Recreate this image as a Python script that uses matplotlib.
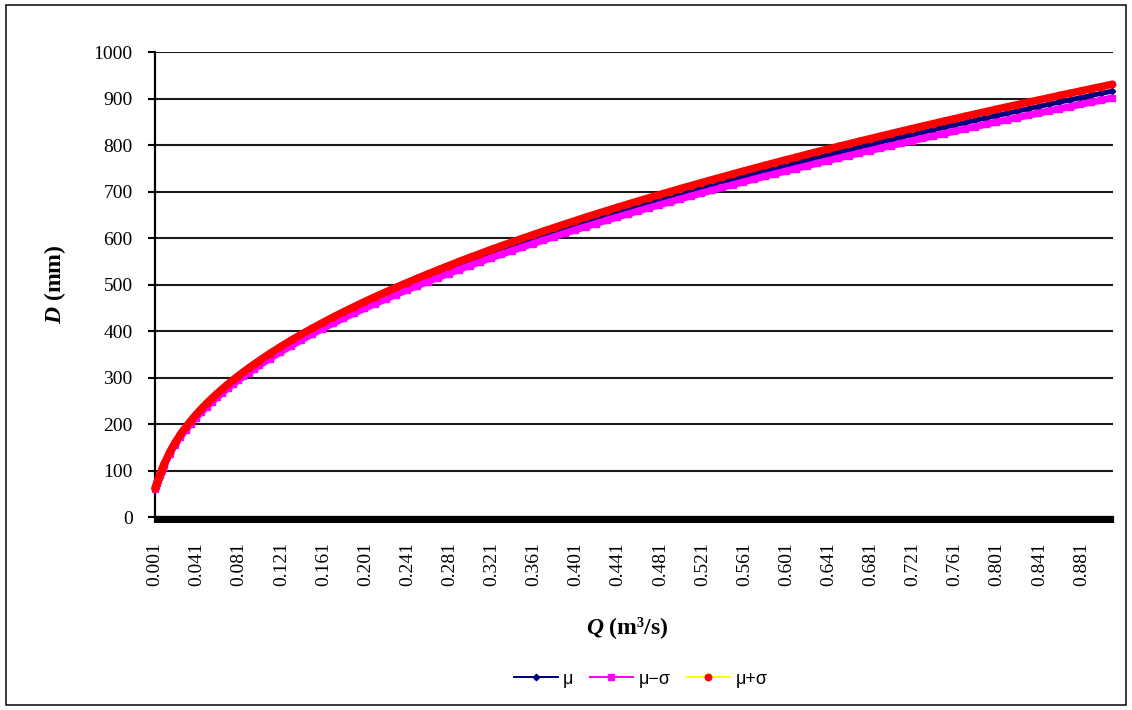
import matplotlib
matplotlib.use("Agg")
import matplotlib.pyplot as plt
from matplotlib.patches import Rectangle
from matplotlib.ticker import FixedLocator, NullFormatter
import numpy as np

# Discharge Q (m3/s) and pipe diameter D (mm): mean, mean - sigma, mean + sigma
q = [0.001, 0.002, 0.003, 0.004, 0.005, 0.006, 0.007, 0.008, 0.009, 0.010,
     0.015, 0.020, 0.025, 0.030, 0.035, 0.040, 0.045, 0.050, 0.055, 0.060,
     0.065, 0.070, 0.075, 0.080, 0.085, 0.090, 0.095, 0.100,
     0.11, 0.12, 0.13, 0.14, 0.15, 0.16, 0.17, 0.18, 0.19, 0.20,
     0.21, 0.22, 0.23, 0.24, 0.25, 0.26, 0.27, 0.28, 0.29, 0.30,
     0.31, 0.32, 0.33, 0.34, 0.35, 0.36, 0.37, 0.38, 0.39, 0.40,
     0.41, 0.42, 0.43, 0.44, 0.45, 0.46, 0.47, 0.48, 0.49, 0.50,
     0.51, 0.52, 0.53, 0.54, 0.55, 0.56, 0.57, 0.58, 0.59, 0.60,
     0.61, 0.62, 0.63, 0.64, 0.65, 0.66, 0.67, 0.68, 0.69, 0.70,
     0.71, 0.72, 0.73, 0.74, 0.75, 0.76, 0.77, 0.78, 0.79, 0.80,
     0.81, 0.82, 0.83, 0.84, 0.85, 0.86, 0.87, 0.88, 0.89, 0.90, 0.91]

d_mean = [62.0, 68.0, 75.0, 81.0, 87.0, 93.0, 98.0, 104.0, 109.5, 114.5,
          138.6, 158.2, 175.4, 190.7, 204.7, 217.7, 229.8, 241.2, 252.0, 262.3,
          272.2, 281.6, 290.7, 299.5, 307.9, 316.1, 324.1, 331.8,
          346.7, 360.9, 374.4, 387.4, 399.9, 411.9, 423.6, 434.9, 445.8, 456.5,
          466.8, 476.9, 486.7, 496.4, 505.8, 515.0, 524.0, 532.8, 541.5, 550.1,
          558.4, 566.7, 574.7, 582.7, 590.5, 598.1, 605.7, 613.2, 620.6, 627.9,
          635.1, 642.1, 649.1, 656.0, 662.8, 669.6, 676.2, 682.8, 689.3, 695.8,
          702.1, 708.4, 714.6, 720.8, 726.9, 733.0, 738.9, 744.9, 750.8, 756.6,
          762.3, 768.1, 773.8, 779.4, 784.9, 790.5, 796.0, 801.4, 806.8, 812.2,
          817.5, 822.8, 828.0, 833.2, 838.4, 843.5, 848.6, 853.6, 858.7, 863.7,
          868.6, 873.5, 878.4, 883.2, 888.0, 892.8, 897.6, 902.3, 907.1, 911.7, 916.4]

d_lower = [61.0, 66.9, 73.8, 79.7, 85.6, 91.5, 96.4, 102.3, 107.8, 112.7,
           136.4, 155.7, 172.6, 187.6, 201.4, 214.2, 226.1, 237.3, 248.0, 258.1,
           267.8, 277.1, 286.0, 294.7, 303.0, 311.0, 318.9, 326.5,
           341.2, 355.1, 368.4, 381.2, 393.5, 405.3, 416.8, 427.9, 438.7, 449.2,
           459.3, 469.3, 478.9, 488.5, 497.7, 506.8, 515.6, 524.3, 532.8, 541.3,
           549.5, 557.6, 565.5, 573.4, 581.1, 588.5, 596.0, 603.4, 610.7, 617.9,
           624.9, 631.8, 638.7, 645.5, 652.2, 658.9, 665.4, 671.9, 678.3, 684.7,
           690.9, 697.1, 703.2, 709.3, 715.3, 721.3, 727.1, 733.0, 738.8, 744.5,
           750.1, 755.8, 761.4, 766.9, 772.3, 777.9, 783.3, 788.6, 793.9, 799.2,
           804.4, 809.6, 814.8, 819.9, 825.0, 830.0, 835.0, 839.9, 845.0, 849.9,
           854.7, 859.5, 864.3, 869.1, 873.8, 878.5, 883.2, 887.9, 892.6, 897.1, 901.7]

d_upper = [63.0, 69.1, 76.2, 82.3, 88.4, 94.5, 99.6, 105.7, 111.2, 116.3,
           140.8, 160.7, 178.2, 193.8, 208.0, 221.2, 233.5, 245.1, 256.0, 266.5,
           276.6, 286.1, 295.4, 304.3, 312.8, 321.2, 329.3, 337.1,
           352.2, 366.7, 380.4, 393.6, 406.3, 418.5, 430.4, 441.9, 452.9, 463.8,
           474.3, 484.5, 494.5, 504.3, 513.9, 523.2, 532.4, 541.3, 550.2, 558.9,
           567.3, 575.8, 583.9, 592.0, 599.9, 607.7, 615.4, 623.0, 630.5, 637.9,
           645.3, 652.4, 659.5, 666.5, 673.4, 680.3, 687.0, 693.7, 700.3, 706.9,
           713.3, 719.7, 726.0, 732.3, 738.5, 744.7, 750.7, 756.8, 762.8, 768.7,
           774.5, 780.4, 786.2, 791.9, 797.5, 803.1, 808.7, 814.2, 819.7, 825.2,
           830.6, 836.0, 841.2, 846.5, 851.8, 857.0, 862.2, 867.3, 872.4, 877.5,
           882.5, 887.5, 892.5, 897.3, 902.2, 907.1, 912.0, 916.7, 921.6, 926.3, 931.1]

x_ticklabels = ["0.001", "0.041", "0.081", "0.121", "0.161", "0.201", "0.241",
                "0.281", "0.321", "0.361", "0.401", "0.441", "0.481", "0.521",
                "0.561", "0.601", "0.641", "0.681", "0.721", "0.761", "0.801",
                "0.841", "0.881"]
y_ticks = [0, 100, 200, 300, 400, 500, 600, 700, 800, 900, 1000]

plt.rcParams["mathtext.fontset"] = "custom"
plt.rcParams["mathtext.rm"] = "Liberation Serif"
plt.rcParams["mathtext.it"] = "Liberation Serif:italic"
plt.rcParams["mathtext.bf"] = "Liberation Serif:bold"
plt.rcParams["mathtext.bfit"] = "Liberation Serif:italic:bold"

W, H = 1132, 710
fig = plt.figure(figsize=(W / 100, H / 100), dpi=100)
ax = fig.add_axes([155 / W, 1 - 517.3 / H, (1113 - 155) / W, (517.3 - 52.3) / H])

px = 0.72  # points per pixel at 100 dpi

series = [
    (d_mean, "μ", "#000080", "#000080", "D", 4.5, 5.0, 3),
    (d_lower, "μ−σ", "#FF00FF", "#FF00FF", "s", 6.0, 7.0, 4),
    (d_upper, "μ+σ", "#FFFF00", "#FF0000", "o", 6.5, 7.5, 5),
]
handles = []
for vals, lab, lcol, mcol, mk, msize, band, z in series:
    h, = ax.plot(q, vals, color=lcol, lw=2 * px, marker=mk, ms=msize * px,
                 mfc=mcol, mec=mcol, label=lab, zorder=z, clip_on=False)
    # dense markers merge into a continuous band of the marker colour
    ax.plot(q, vals, color=mcol, lw=band * px, solid_capstyle="round",
            solid_joinstyle="round", zorder=z + 0.5, clip_on=False)
    handles.append(h)

ax.set_xlim(0.001, 0.911)
ax.set_ylim(0, 1000)

major_x = [float(s) for s in x_ticklabels]
ax.xaxis.set_major_locator(FixedLocator(major_x))
ax.set_xticklabels(x_ticklabels, rotation=90, fontfamily="Liberation Serif",
                   fontsize=14)
ax.xaxis.set_minor_locator(FixedLocator(np.arange(0.001, 0.9115, 0.001)))
ax.xaxis.set_minor_formatter(NullFormatter())
ax.tick_params(axis="x", which="both", direction="out", length=4, width=1.6,
               color="black", pad=14)

ax.set_yticks(y_ticks)
ax.set_yticklabels([str(v) for v in y_ticks], fontfamily="Liberation Serif",
                   fontsize=14)
ax.tick_params(axis="y", direction="out", length=5, width=1.5, pad=11)

ax.grid(axis="y", color="#1a1a1a", lw=1.5)
ax.set_axisbelow(True)
for side in ("top", "right"):
    ax.spines[side].set_visible(False)
ax.spines["left"].set_linewidth(2.2 * px)
ax.spines["bottom"].set_linewidth(2.2 * px)

ax.set_ylabel(r"$\mathbfit{D}$ (mm)", fontfamily="Liberation Serif",
              fontweight="bold", fontsize=17)
ax.yaxis.set_label_coords((68 - 155) / (1113 - 155), 0.5)
ax.set_xlabel(r"$\mathbfit{Q}$ (m³/s)", fontfamily="Liberation Serif",
              fontweight="bold", fontsize=17)
ax.xaxis.set_label_coords((627 - 155) / (1113 - 155), -(615 - 517.3) / (517.3 - 52.3))

fig.legend(handles=handles, loc="center", bbox_to_anchor=(641 / W, 1 - 679 / H),
           ncol=3, frameon=False, handlelength=2.4, handletextpad=0.3,
           columnspacing=0.9, prop={"family": ["Liberation Sans", "DejaVu Sans"],
                                    "size": 13})

fig.add_artist(Rectangle((6 / W, 1 - 705 / H), (1126 - 6) / W, (705 - 5) / H,
                         transform=fig.transFigure, fill=False,
                         edgecolor="black", lw=1.5 * px))

fig.savefig("out.png", dpi=100, facecolor="white")
